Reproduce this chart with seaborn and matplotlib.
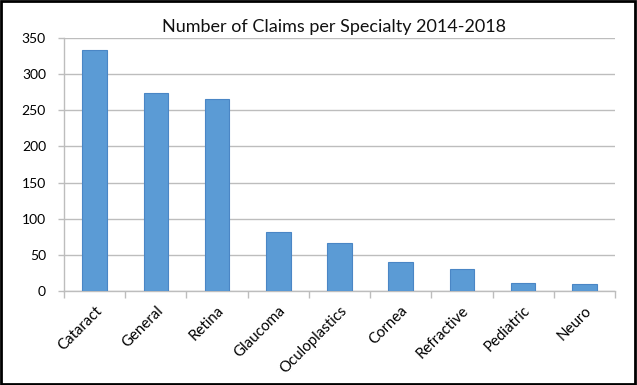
import matplotlib
matplotlib.use("Agg")
import matplotlib.pyplot as plt
import seaborn as sns
import pandas as pd
import numpy as np
from matplotlib.patches import Rectangle

specialties = ["Cataract", "General", "Retina", "Glaucoma", "Oculoplastics",
               "Cornea", "Refractive", "Pediatric", "Neuro"]
claims = [333, 274, 266, 82, 67, 40, 30, 11, 9]
yticks = [0, 50, 100, 150, 200, 250, 300, 350]

sns.set_theme(style="white")
plt.rcParams['font.family'] = ['Lato', 'DejaVu Sans']

df = pd.DataFrame({"Specialty": specialties, "Claims": claims})

fig = plt.figure(figsize=(6.37, 3.85), dpi=100)
ax = fig.add_axes([64/637, 1-291/385, (615-64)/637, (291-38)/385])

sns.barplot(data=df, x="Specialty", y="Claims", color="#5B9BD5", width=0.4,
            edgecolor="#4A86C5", linewidth=0.8, saturation=1, ax=ax, zorder=3)

ax.set_ylim(0, 350)
ax.set_xlim(-0.5, len(specialties) - 0.5)
ax.set_yticks(yticks)
ax.set_yticklabels([str(v) for v in yticks], fontsize=10, color="black")
ax.yaxis.grid(True, color="#BDBDBD", linewidth=1.0, zorder=0)
ax.set_axisbelow(True)
ax.set_xlabel("")
ax.set_ylabel("")
ax.set_xticks(range(len(specialties)))
ax.set_xticklabels(specialties, rotation=45, ha="right", rotation_mode="anchor",
                   fontsize=10.8, color="black")
ax.tick_params(axis="x", which="major", length=0, pad=9)
ax.tick_params(axis="y", which="major", length=4, color="#BDBDBD", width=1,
               left=True, pad=9)
ax.set_xticks(np.arange(-0.5, len(specialties), 1.0), minor=True)
ax.tick_params(axis="x", which="minor", length=5, color="#BDBDBD", width=1,
               direction="out", bottom=True)

for s in ["top", "right"]:
    ax.spines[s].set_visible(False)
for s in ["left", "bottom"]:
    ax.spines[s].set_color("#BDBDBD")
    ax.spines[s].set_linewidth(1.0)

fig.text(334/637, 1 - 27/385, "Number of Claims per Specialty 2014-2018",
         ha="center", va="center", fontsize=13, color="#111111")

fig.patches.append(Rectangle((0.002, 0.003), 0.995, 0.994, transform=fig.transFigure,
                             fill=False, edgecolor="black", linewidth=2))

fig.savefig("out.png", dpi=100)
